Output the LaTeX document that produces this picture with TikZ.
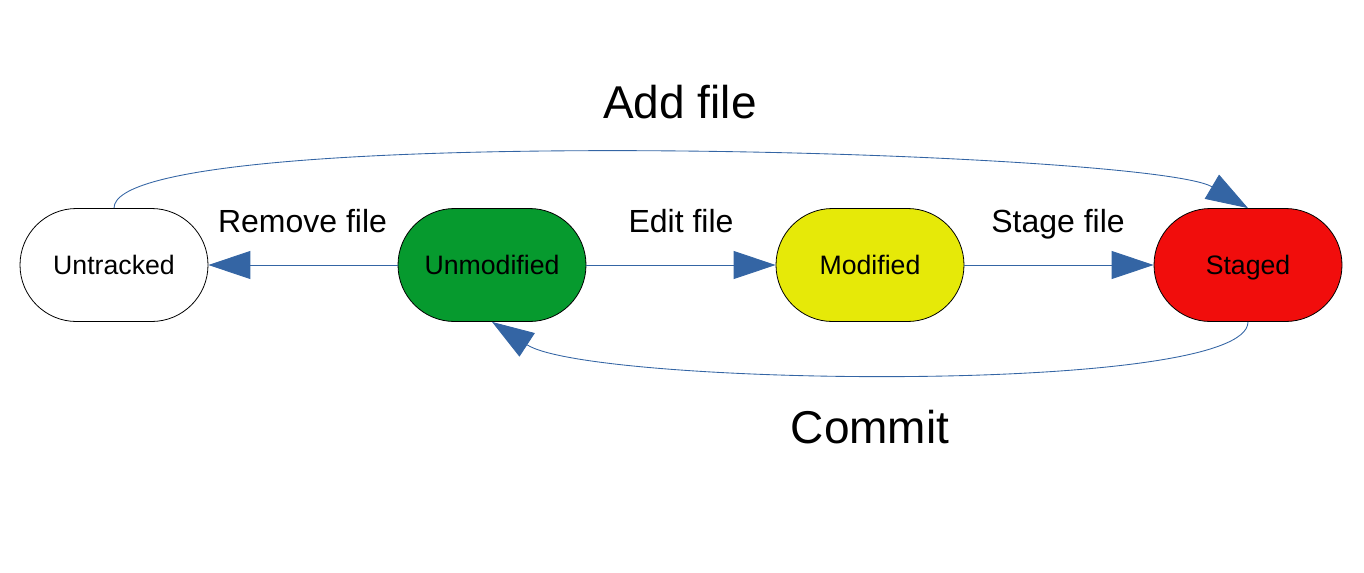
\documentclass[tikz,border=0pt]{standalone}
\usepackage{fontspec}
\setmainfont{Liberation Sans}
\usetikzlibrary{arrows.meta,shapes.misc}
\definecolor{conn}{HTML}{3465A4}
\definecolor{gfill}{HTML}{069A2E}
\definecolor{yfill}{HTML}{E6E908}
\definecolor{rfill}{HTML}{F10D0C}
\tikzset{
  state/.style={rounded rectangle, draw=black, line width=0.6pt,
    minimum width=141pt, minimum height=84.75pt, inner sep=0pt,
    font=\fontsize{20}{24}\selectfont, text height=14.6pt, text depth=0pt},
  conn/.style={draw=conn, line width=0.65pt,
    -{Triangle[length=31.5pt,width=21pt,fill=conn]}},
  midlabel/.style={anchor=base, font=\fontsize{24}{28}\selectfont, inner sep=0pt},
  biglabel/.style={anchor=base, font=\fontsize{34.5}{40}\selectfont, inner sep=0pt}
}
\begin{document}
\begin{tikzpicture}[x=0.75pt,y=-0.75pt]
\useasboundingbox (0,0) rectangle (1364,572);
\node[state, fill=white] (ut) at (114,265) {Untracked};
\node[state, fill=gfill] (um) at (492,265) {Unmodified};
\node[state, fill=yfill] (md) at (870,265) {Modified};
\node[state, fill=rfill] (st) at (1248,265) {Staged};

\draw[conn] (um.west) -- (ut.east);
\draw[conn] (um.east) -- (md.west);
\draw[conn] (md.east) -- (st.west);
\draw[conn] (ut.north) .. controls +(0,-88) and +(-98,-58) .. (st.north);
\draw[conn] (st.south) .. controls +(0,74) and +(98,64) .. (um.south);

\node[midlabel] (lrm) at (302.5,232) {Remove file};
\node[midlabel] (led) at (681,232) {Edit file};
\node[midlabel] (lsf) at (1058,232) {Stage file};
\node[biglabel] (lad) at (680,118) {Add file};
\node[biglabel] (lcm) at (870,443) {Commit};
\end{tikzpicture}
\end{document}
